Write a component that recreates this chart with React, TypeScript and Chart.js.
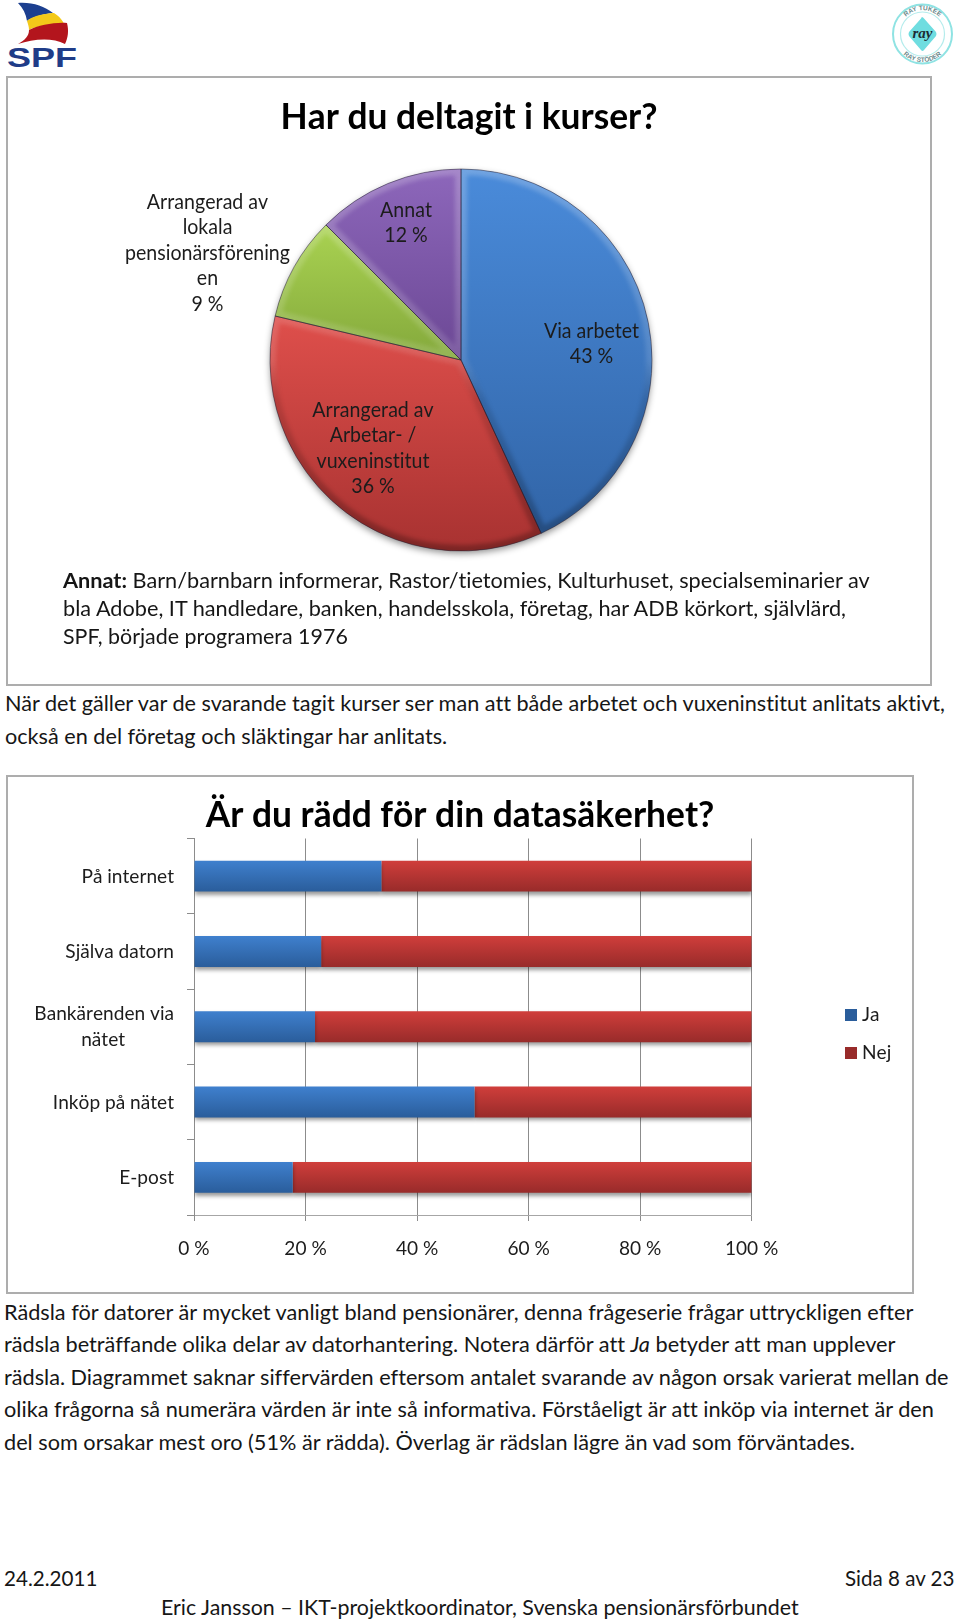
import React, { useEffect, useLayoutEffect, useRef } from "react";
import { Chart, registerables } from "chart.js";
Chart.register(...registerables);

const FONT = "Lato, 'Noto Sans', sans-serif";

// ---- data: pie
const pieTitle = "Har du deltagit i kurser?";
const pieCategories = ["Via arbetet", "Arrangerad av Arbetar- / vuxeninstitut", "Arrangerad av lokala pensionärsföreningen", "Annat"];
const pieValues = [43.1, 35.6, 8.8, 12.5];
const pieLabelLines = [
  ["Via arbetet", "43 %"],
  ["Arrangerad av", "Arbetar- /", "vuxeninstitut", "36 %"],
  ["Arrangerad av", "lokala", "pensionärsförening", "en", "9 %"],
  ["Annat", "12 %"],
];

// ---- data: bars
const barTitle = "Är du rädd för din datasäkerhet?";
const barCategories: (string | string[])[] = ["På internet", "Själva datorn", ["Bankärenden via", "nätet"], "Inköp på nätet", "E-post"];
const jaValues = [33.6, 22.8, 21.7, 50.3, 17.7];
const nejValues = [66.4, 77.2, 78.3, 49.7, 82.3];
const seriesNames = ["Ja", "Nej"];

// ---- styles (page coordinates)
const PIE_BOX = { left: 8, top: 78, width: 922, height: 606 };
const BAR_BOX = { left: 8, top: 776, width: 904, height: 516 };
const pieLabelAnchors = [
  { dx: 130.5, dy: -29 },
  { dx: -88, dy: 50 },
  { dx: -253.5, dy: -158 },
  { dx: -55, dy: -150 },
];
// top colour, bottom colour, and the vertical range of the pie that the gradient spans
const sliceGradients: [string, string, number, number][] = [
  ["#4a8bda", "#3266a9", 0, 0.92],
  ["#e0504c", "#a83231", 0.37, 1],
  ["#a9d251", "#86ab3d", 0.15, 0.48],
  ["#8d67bb", "#6d4996", 0, 0.48],
];
const TEXT_SX = 0.955;
const TITLE_SX = 0.955;

function condense(ctx: any) {
  const orig = ctx.fillText.bind(ctx);
  ctx.fillText = (t: string, x: number, y: number, m?: number) => {
    const sx = /bold/.test(ctx.font) ? TITLE_SX : TEXT_SX;
    const shift = seriesNames.includes(t) ? -5 : 0;
    ctx.save();
    ctx.translate(x + shift, y);
    ctx.scale(sx, 1);
    if (m === undefined) orig(t, 0, 0);
    else orig(t, 0, 0, m / sx);
    ctx.restore();
  };
}

function plainText(ctx: any) {
  ctx.textRendering = "optimizeSpeed";
  ctx.fontKerning = "none";
}

function PieChart() {
  const ref = useRef<HTMLCanvasElement>(null);
  useEffect(() => {
    const grad = (c: any, i: number) => {
      const a = c.chart.chartArea;
      const [top, bottom, f0, f1] = sliceGradients[i];
      if (!a || !Number.isFinite(a.top) || !Number.isFinite(a.bottom)) return top;
      const h = a.bottom - a.top;
      const g = c.chart.ctx.createLinearGradient(0, a.top + h * f0, 0, a.top + h * f1);
      g.addColorStop(0, top);
      g.addColorStop(1, bottom);
      return g;
    };
    const chart = new Chart(ref.current as HTMLCanvasElement, {
      type: "pie",
      data: {
        labels: pieCategories,
        datasets: [{
          data: pieValues,
          backgroundColor: (c: any) => grad(c, c.dataIndex ?? 0),
          borderWidth: 0,
        }],
      },
      options: {
        responsive: false,
        animation: false,
        layout: { padding: { left: 262, right: 278, top: 0, bottom: 133 } },
        plugins: {
          legend: { display: false },
          tooltip: { enabled: false },
          title: {
            display: true,
            text: pieTitle,
            color: "#000",
            font: { family: FONT, size: 37, weight: "bold", lineHeight: 1.2 },
            padding: { top: 17, bottom: 29.6 },
          },
        },
      },
      plugins: [{
        id: "pieDecor",
        beforeInit(ch: any) { condense(ch.ctx); },
        beforeDraw(ch: any) { plainText(ch.ctx); },
        afterLayout(ch: any) {
          ch.titleBlock.left = 0;
          ch.titleBlock.right = ch.width;
        },
        beforeDatasetsDraw(ch: any) {
          const arc = ch.getDatasetMeta(0).data[0];
          const ctx = ch.ctx;
          ctx.save();
          ctx.shadowColor = "rgba(0,0,0,0.45)";
          ctx.shadowBlur = 7;
          ctx.shadowOffsetY = 3;
          ctx.fillStyle = "#555";
          ctx.beginPath();
          ctx.arc(arc.x, arc.y, arc.outerRadius - 0.5, 0, Math.PI * 2);
          ctx.fill();
          ctx.restore();
        },
        afterDatasetsDraw(ch: any) {
          const ctx = ch.ctx;
          const area = ch.chartArea;
          const arcs = ch.getDatasetMeta(0).data;
          arcs.forEach((a: any) => {
            const path = () => {
              ctx.beginPath();
              ctx.moveTo(a.x, a.y);
              ctx.arc(a.x, a.y, a.outerRadius, a.startAngle, a.endAngle);
              ctx.closePath();
            };
            ctx.save();
            path();
            ctx.clip();
            const g = ctx.createLinearGradient(0, area.top, 0, area.bottom);
            g.addColorStop(0, "rgba(255,255,255,0.22)");
            g.addColorStop(0.5, "rgba(255,255,255,0.12)");
            g.addColorStop(0.6, "rgba(0,0,0,0.10)");
            g.addColorStop(1, "rgba(0,0,0,0.26)");
            ctx.filter = "blur(2px)";
            ctx.strokeStyle = g;
            ctx.lineWidth = 12;
            path();
            ctx.stroke();
            ctx.filter = "none";
            ctx.restore();
            ctx.save();
            ctx.strokeStyle = "rgba(35,30,50,0.5)";
            ctx.lineWidth = 1;
            path();
            ctx.stroke();
            ctx.restore();
          });
          ctx.save();
          ctx.fillStyle = "#1c1c1c";
          ctx.font = `normal 20.5px ${FONT}`;
          ctx.textAlign = "center";
          ctx.textBaseline = "middle";
          arcs.forEach((a: any, i: number) => {
            const p = pieLabelAnchors[i];
            pieLabelLines[i].forEach((line, k) => {
              ctx.fillText(line, a.x + p.dx, a.y + p.dy + k * 25.6);
            });
          });
          ctx.restore();
        },
      }],
    } as any);
    return () => chart.destroy();
  }, []);
  return <canvas ref={ref} width={PIE_BOX.width} height={PIE_BOX.height}
    style={{ position: "absolute", left: PIE_BOX.left, top: PIE_BOX.top, width: PIE_BOX.width, height: PIE_BOX.height }} />;
}

function BarChart() {
  const ref = useRef<HTMLCanvasElement>(null);
  useEffect(() => {
    const barFill = (top: string, bottom: string) => (c: any) => {
      const s = c.chart.scales?.y;
      if (!s || c.dataIndex === undefined) return top;
      const mid = s.getPixelForValue(c.dataIndex);
      if (!Number.isFinite(mid)) return top;
      const g = c.chart.ctx.createLinearGradient(0, mid - 15.5, 0, mid + 15.5);
      g.addColorStop(0, top);
      g.addColorStop(1, bottom);
      return g;
    };
    const chart = new Chart(ref.current as HTMLCanvasElement, {
      type: "bar",
      data: {
        labels: barCategories,
        datasets: [
          { label: seriesNames[0], data: jaValues, backgroundColor: barFill("#3f80ce", "#2a5d9b"), categoryPercentage: 0.41, barPercentage: 1 },
          { label: seriesNames[1], data: nejValues, backgroundColor: barFill("#d03e3b", "#982b2a"), categoryPercentage: 0.41, barPercentage: 1 },
        ],
      },
      options: {
        indexAxis: "y",
        responsive: false,
        animation: false,
        layout: { padding: { left: 0, top: 0, bottom: 0, right: 80 } },
        scales: {
          x: {
            stacked: true,
            min: 0,
            max: 100,
            afterFit(s: any) { s.height = 77; },
            ticks: {
              stepSize: 20,
              maxRotation: 0,
              padding: 16,
              color: "#1c1c1c",
              font: { family: FONT, size: 20 },
              callback: (v: any) => `${v} %`,
            },
            grid: { color: "#8c8c8c", tickLength: 6, lineWidth: 1 },
            border: { color: "#a6a6a6" },
          },
          y: {
            stacked: true,
            afterFit(s: any) { s.width = 186; },
            ticks: {
              padding: 13,
              color: "#1c1c1c",
              font: { family: FONT, size: 20, lineHeight: 1.29 },
              callback: (_v: any, i: number) => {
                const l = barCategories[i];
                return Array.isArray(l) ? [l[0], l[1] + "          "] : l;
              },
            },
            grid: { drawOnChartArea: false, color: "#8c8c8c", tickLength: 7, offset: true },
            border: { color: "#8c8c8c" },
          },
        },
        plugins: {
          tooltip: { enabled: false },
          title: {
            display: true,
            text: barTitle,
            color: "#000",
            font: { family: FONT, size: 37, weight: "bold", lineHeight: 1.2 },
            padding: { top: 17, bottom: 1.1 },
          },
          legend: {
            position: "right",
            labels: {
              boxWidth: 12,
              boxHeight: 12,
              padding: 18,
              color: "#1c1c1c",
              font: { family: FONT, size: 20 },
            },
          },
        },
      },
      plugins: [{
        id: "barDecor",
        beforeInit(ch: any) { condense(ch.ctx); },
        beforeDraw(ch: any) { plainText(ch.ctx); },
        afterLayout(ch: any) {
          ch.titleBlock.left = 0;
          ch.titleBlock.right = ch.width;
          const lg = ch.legend;
          const h = lg.bottom - lg.top;
          lg.left = 837 - lg.options.labels.padding;
          lg.right = lg.left + lg.width;
          lg.top = 258 - h / 2;
          lg.bottom = lg.top + h;
        },
        beforeDatasetDraw(ch: any) {
          const ctx = ch.ctx;
          ctx.save();
          ctx.shadowColor = "rgba(0,0,0,0.4)";
          ctx.shadowBlur = 4;
          ctx.shadowOffsetY = 3;
        },
        afterDatasetDraw(ch: any) {
          ch.ctx.restore();
        },
      }],
    } as any);
    return () => chart.destroy();
  }, []);
  return <canvas ref={ref} width={BAR_BOX.width} height={BAR_BOX.height}
    style={{ position: "absolute", left: BAR_BOX.left, top: BAR_BOX.top, width: BAR_BOX.width, height: BAR_BOX.height }} />;
}

function Line({ x, y, w, children }: any) {
  const ref = useRef<HTMLSpanElement>(null);
  useLayoutEffect(() => {
    const el = ref.current as HTMLSpanElement;
    el.style.transform = `scaleX(${w / el.offsetWidth})`;
  }, [w]);
  return (
    <div style={{ position: "absolute", left: x, top: y - 16, height: 32, lineHeight: "32px", whiteSpace: "nowrap" }}>
      <span ref={ref} style={{ display: "inline-block", transformOrigin: "left center", fontFamily: FONT, fontSize: 21.5, color: "#161616", fontVariantLigatures: "none" }}>
        {children}
      </span>
    </div>
  );
}

function Frame({ l, t, r, b }: any) {
  return <div style={{ position: "absolute", left: l, top: t, width: r - l, height: b - t, boxSizing: "border-box", border: "2px solid #adadad", background: "#fff" }} />;
}

function SpfLogo() {
  return (
    <svg style={{ position: "absolute", left: 0, top: 0 }} width={100} height={76} viewBox="0 0 100 76">
      <path d="M18 3 C32 2 44 6 53 13 C42 14 30 18 27 21 C26 14 23 8 18 3Z" fill="#1c3f8f" />
      <path d="M27 21 C33 15 50 13 54 13 C62 18 66 25 67 33 C52 23 35 26 29 30 C29 27 28 24 27 21Z" fill="#f3c91a" />
      <path d="M29 30 C38 25 56 22 67 23 C69 31 68 38 65 44 C52 37 33 39 18 44 C25 40 29 36 29 30Z" fill="#b3151d" />
      <text x="7" y="67" fontFamily="'Liberation Sans', sans-serif" fontWeight="bold" fontSize="27" fill="#1f3c88" textLength="70" lengthAdjust="spacingAndGlyphs">SPF</text>
    </svg>
  );
}

function RayLogo() {
  return (
    <svg style={{ position: "absolute", left: 890, top: 0 }} width={70} height={70} viewBox="0 0 70 70">
      <circle cx="32.5" cy="34" r="29.5" fill="#fff" stroke="#8fe3e3" strokeWidth="2" />
      <circle cx="32.5" cy="34" r="22" fill="none" stroke="#b4ecec" strokeWidth="1.2" />
      <path d="M32 17 Q33 17 34 18.5 L46 32 Q47 34 46 36 L34 50 Q32.5 52 31 50 L19 36 Q18 34 19 32 L31 18.5 Q31.5 17 32 17Z" fill="#6fdde0" />
      <text x="32.5" y="38" textAnchor="middle" fontFamily="'Liberation Serif', serif" fontStyle="italic" fontWeight="bold" fontSize="15" fill="#1c2a33">ray</text>
      <path id="rayTop" d="M8.5 34 A24 24 0 0 1 56.5 34" fill="none" />
      <path id="rayBot" d="M4.5 34 A28 28 0 0 0 60.5 34" fill="none" />
      <text fontFamily="'Liberation Sans', sans-serif" fontWeight="bold" fontSize="6.5" fill="#6d8a8c"><textPath href="#rayTop" startOffset="50%" textAnchor="middle">RAY TUKEE</textPath></text>
      <text fontFamily="'Liberation Sans', sans-serif" fontWeight="bold" fontSize="6.5" fill="#6d8a8c"><textPath href="#rayBot" startOffset="50%" textAnchor="middle">RAY STÖDER</textPath></text>
    </svg>
  );
}

export default function App() {
  return (
    <div style={{ position: "absolute", left: 0, top: 0, width: 960, height: 1620, overflow: "hidden", background: "#fff" }}>
      <SpfLogo />
      <RayLogo />
      <Frame l={6} t={76} r={932} b={686} />
      <PieChart />
      <Line x={63} y={580} w={807}><b>Annat:</b> Barn/barnbarn informerar, Rastor/tietomies, Kulturhuset, specialseminarier av</Line>
      <Line x={63} y={608} w={783}>bla Adobe, IT handledare, banken, handelsskola, företag, har ADB körkort, självlärd,</Line>
      <Line x={63} y={636} w={285}>SPF, började programera 1976</Line>
      <Line x={4.5} y={703} w={940}>När det gäller var de svarande tagit kurser ser man att både arbetet och vuxeninstitut anlitats aktivt,</Line>
      <Line x={4.5} y={736} w={442}>också en del företag och släktingar har anlitats.</Line>
      <Frame l={6} t={775} r={914} b={1294} />
      <BarChart />
      <Line x={4.3} y={1312} w={909}>Rädsla för datorer är mycket vanligt bland pensionärer, denna frågeserie frågar uttryckligen efter</Line>
      <Line x={4.3} y={1343.5} w={891.5}>rädsla beträffande olika delar av datorhantering. Notera därför att <i>Ja</i> betyder att man upplever</Line>
      <Line x={4.3} y={1377} w={945}>rädsla. Diagrammet saknar siffervärden eftersom antalet svarande av någon orsak varierat mellan de</Line>
      <Line x={4.3} y={1409} w={930}>olika frågorna så numerära värden är inte så informativa. Förståeligt är att inköp via internet är den</Line>
      <Line x={4.3} y={1442} w={850.5}>del som orsakar mest oro (51% är rädda). Överlag är rädslan lägre än vad som förväntades.</Line>
      <Line x={4.3} y={1578} w={93}>24.2.2011</Line>
      <Line x={845} y={1578} w={109}>Sida 8 av 23</Line>
      <Line x={161} y={1606.5} w={637.5}>Eric Jansson – IKT-projektkoordinator, Svenska pensionärsförbundet</Line>
    </div>
  );
}
